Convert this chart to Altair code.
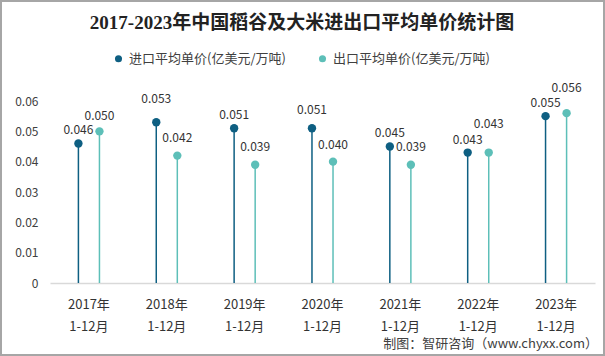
import altair as alt
import pandas as pd

years = ["2017年 1-12月", "2018年 1-12月", "2019年 1-12月", "2020年 1-12月",
         "2021年 1-12月", "2022年 1-12月", "2023年 1-12月"]
series = ["进口平均单价(亿美元/万吨)", "出口平均单价(亿美元/万吨)"]
import_vals = [0.046, 0.053, 0.051, 0.051, 0.045, 0.043, 0.055]
export_vals = [0.050, 0.042, 0.039, 0.040, 0.039, 0.043, 0.056]
colors = ["#0e5f82", "#5dbfb8"]
# label lift above each dot, in pixels (style only)
import_lift = [13, 23, 13, 18, 14, 13, 13]
export_lift = [15, 18, 18, 17, 18, 29, 25]

PLOT_H = 182
Y_MAX = 0.06

rows = []
for y, a, b, la, lb in zip(years, import_vals, export_vals, import_lift, export_lift):
    rows.append({"year": y, "series": series[0], "value": a, "label": f"{a:.3f}", "lift": la})
    rows.append({"year": y, "series": series[1], "value": b, "label": f"{b:.3f}", "lift": lb})
df = pd.DataFrame(rows)

FONT = "Noto Sans CJK SC"

x = alt.X("year:N", sort=years, title=None,
          scale=alt.Scale(paddingInner=0, paddingOuter=0),
          axis=alt.Axis(labelAngle=0, labelExpr="split(datum.label, ' ')",
                        labelFont=FONT, labelFontSize=13, labelColor="#333333",
                        labelLineHeight=22, labelPadding=15, ticks=False,
                        domainColor="#d9d9d9", domainWidth=1.5))
xo = alt.XOffset("series:N", sort=series,
                 scale=alt.Scale(paddingInner=0, paddingOuter=0.85))
yscale = alt.Scale(domain=[0, Y_MAX], nice=False)
yaxis = alt.Axis(values=[0, 0.01, 0.02, 0.03, 0.04, 0.05, 0.06],
                 labelExpr="datum.value == 0 ? '0' : format(datum.value, '.2f')",
                 grid=False, domain=False, ticks=False,
                 labelFont=FONT, labelFontSize=12, labelColor="#404040",
                 labelPadding=12)
y = alt.Y("value:Q", title=None, scale=yscale, axis=yaxis)
color = alt.Color("series:N", sort=series,
                  scale=alt.Scale(domain=series, range=colors),
                  legend=alt.Legend(title=None, orient="none", direction="horizontal",
                                    legendX=62, legendY=-49, symbolType="circle",
                                    symbolSize=50, labelFont=FONT, labelFontSize=13,
                                    labelColor="#404040", columnPadding=30,
                                    symbolStrokeWidth=0))

base = alt.Chart(df)
stems = base.mark_rule(strokeWidth=1.5).encode(x=x, xOffset=xo, y=y, y2=alt.datum(0), color=color)
dots = base.mark_circle(size=70, opacity=1).encode(x=x, xOffset=xo, y=y, color=color)
labels = base.transform_calculate(
    ly=f"datum.value + datum.lift * {Y_MAX} / {PLOT_H}"
).mark_text(baseline="middle", font=FONT, fontSize=12, color="#333333").encode(
    x=x, xOffset=xo, y=alt.Y("ly:Q", title=None, scale=yscale, axis=yaxis), text="label:N")

title_df = pd.DataFrame({"t": ["2017-2023年中国稻谷及大米进出口平均单价统计图"]})
title = alt.Chart(title_df).mark_text(font="Liberation Serif, Noto Sans CJK SC", fontSize=19,
                                      fontWeight="bold", color="#222222",
                                      align="center", baseline="middle").encode(
    x=alt.value(252), y=alt.value(-78), text="t:N")

foot_df = pd.DataFrame({"t": ["制图：智研咨询（www.chyxx.com）"]})
foot = alt.Chart(foot_df).mark_text(font=FONT, fontSize=13, color="#404040",
                                    align="right", baseline="middle").encode(
    x=alt.value(548), y=alt.value(243), text="t:N")

frame = alt.Chart(title_df).mark_rect(fill=None, stroke="#a6a6a6", strokeWidth=2).encode(
    x=alt.value(-49), x2=alt.value(554), y=alt.value(-100), y2=alt.value(254))

chart = alt.layer(stems, dots, labels, title, foot, frame).properties(
    width=545, height=PLOT_H,
    padding={"left": 50, "top": 101, "right": 10, "bottom": 73},
    autosize=alt.AutoSizeParams(type="none"),
).configure_view(stroke=None)

chart.save("out.html", embed_options={"renderer": "svg", "actions": False})
